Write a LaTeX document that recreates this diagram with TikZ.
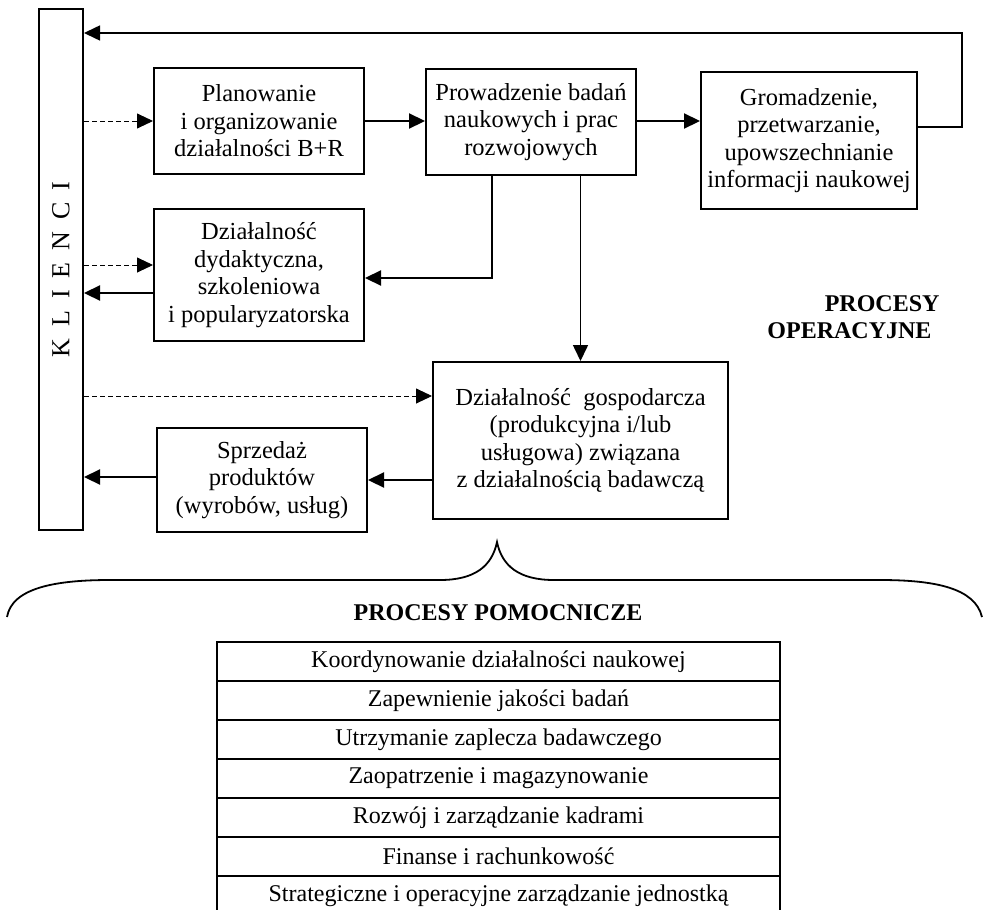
\documentclass[tikz,border=0pt]{standalone}
\usepackage{fontspec}
\setmainfont{Liberation Serif}
\usetikzlibrary{arrows.meta}

\begin{document}
\begin{tikzpicture}[x=1pt, y=-1pt,
    box/.style={draw, line width=2pt, align=center, inner sep=0pt, font=\fontsize{24.5}{27.5}\selectfont},
    conn/.style={line width=2.2pt, -{Triangle[length=16pt,width=15pt]}},
    dashconn/.style={line width=0.9pt, dash pattern=on 5pt off 3pt, -{Triangle[length=16pt,width=15pt]}},
    rowbox/.style={draw, line width=2pt, minimum width=563pt, minimum height=39pt, inner sep=0pt, font=\fontsize{24}{27}\selectfont}]
    \useasboundingbox (0,0) rectangle (985,910);

    % klienci
    \node[box, minimum width=44pt, minimum height=521pt] (klienci) at (61,269.5) {};
    \node[rotate=90, font=\fontsize{26}{30}\selectfont] (kltext) at (klienci) {{\spaceskip=12pt K L I E N C I}};

    % procesy operacyjne
    \node[box, minimum width=210pt, minimum height=106pt] (plan) at (259,121) {Planowanie\\i organizowanie\\działalności B+R};
    \node[box, minimum width=210pt, minimum height=106pt] (prow) at (531,122) {Prowadzenie badań\\naukowych i prac\\rozwojowych};
    \node[box, minimum width=216pt, minimum height=137pt] (grom) at (809,140.5) {Gromadzenie,\\przetwarzanie,\\upowszechnianie\\informacji naukowej};
    \node[box, minimum width=210pt, minimum height=132pt] (dyd) at (259,275) {Działalność\\dydaktyczna,\\szkoleniowa\\i popularyzatorska};
    \node[box, minimum width=295pt, minimum height=157pt] (gosp) at (580.5,440.5) {Działalność\ \ gospodarcza\\(produkcyjna i/lub\\usługowa) związana\\z działalnością badawczą};
    \node[box, minimum width=210pt, minimum height=104pt] (sprz) at (262,480) {Sprzedaż\\produktów\\(wyrobów, usług)};
    \node[font=\bfseries\fontsize{24}{27}\selectfont, align=right, anchor=east] (oper) at (943,317.5) {PROCESY\\OPERACYJNE\hspace*{8pt}};

    % connectors
    \draw[dashconn] (plan.west -| klienci.east) -- (plan.west);
    \draw[dashconn] ([yshift=10pt]dyd.west -| klienci.east) -- ([yshift=10pt]dyd.west);
    \draw[dashconn] ([yshift=44.5pt]gosp.west -| klienci.east) -- ([yshift=44.5pt]gosp.west);
    \draw[conn] (plan.east) -- (plan.east -| prow.west);
    \draw[conn] ([yshift=1pt]prow.east) -- ([yshift=1pt]prow.east -| grom.west);
    \draw[conn] ([xshift=-39pt]prow.south) |- ([yshift=-3pt]dyd.east);
    \draw[conn, line width=1.6pt] (prow.south -| gosp.north) -- (gosp.north);
    \draw[conn] ([yshift=-18pt]dyd.west) -- ([yshift=-18pt]dyd.west -| klienci.east);
    \draw[conn] (sprz.east -| gosp.west) -- (sprz.east);
    \draw[conn] ([yshift=3pt]sprz.west) -- ([yshift=3pt]sprz.west -| klienci.east);
    \coordinate (fb) at (962,33);
    \draw[conn, line width=1.5pt] ([yshift=13.5pt]grom.east) -| (fb) -- (fb -| klienci.east);

    % klamra
    \draw[line width=1.8pt] (7,617) .. controls (12,588) and (55,580) .. (110,580) -- (440,580)
        .. controls (475,580) and (492,566) .. (497,542) .. controls (502,566) and (519,580) .. (554,580)
        -- (880,580) .. controls (935,580) and (975,588) .. (982,617);

    % procesy pomocnicze
    \node[font=\bfseries\fontsize{24}{27}\selectfont] (pomoc) at (498,613) {PROCESY POMOCNICZE};
    \begin{scope}
        \clip (0,0) rectangle (985,910);
        \foreach \txt [count=\i from 0] in {Koordynowanie działalności naukowej, Zapewnienie jakości badań,
            Utrzymanie zaplecza badawczego, Zaopatrzenie i magazynowanie, Rozwój i zarządzanie kadrami,
            Finanse i rachunkowość, Strategiczne i operacyjne zarządzanie jednostką}
            \node[rowbox, anchor=north] (row\i) at (498.5,{641+39*\i}) {\txt};
    \end{scope}
\end{tikzpicture}
\end{document}
